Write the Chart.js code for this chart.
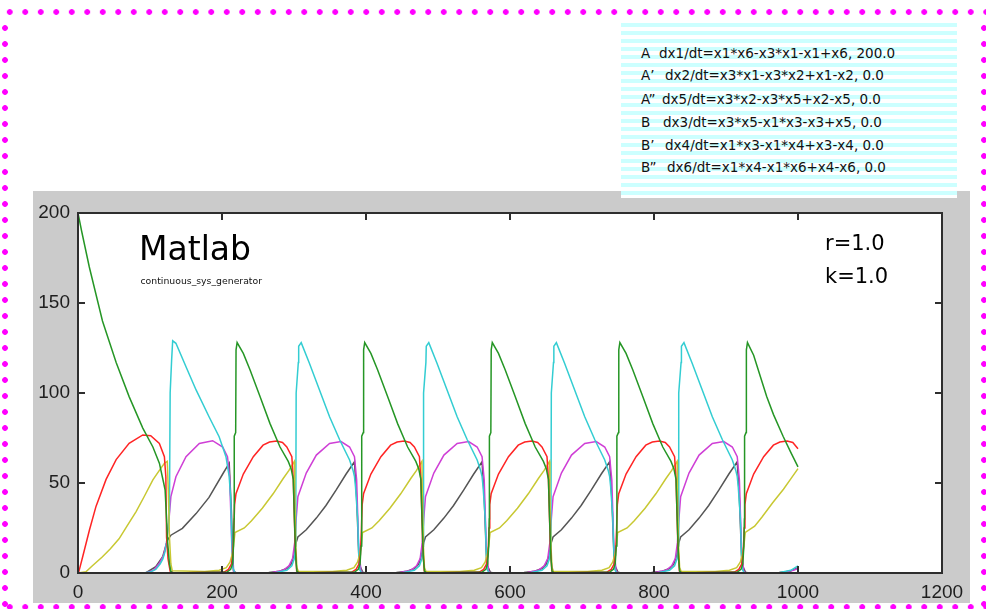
<!DOCTYPE html>
<html>
<head>
<meta charset="utf-8">
<script src="https://cdn.jsdelivr.net/npm/chart.js@4/dist/chart.umd.min.js"></script>
<style>
  html, body { margin: 0; padding: 0; background: #fff; }
  #page { position: relative; width: 986px; height: 609px; overflow: hidden; background: #fff; }
  #panel { position: absolute; left: 33px; top: 191px; width: 937px; height: 412px; background: #cbcbcb; }
  #chart { position: absolute; left: 0; top: 0; }
  .dots { position: absolute; background-image: radial-gradient(circle, #ff00ff 0, #ff00ff 2.5px, rgba(255,0,255,0) 3.2px); }
  #dotsTop { left: 2px; top: 9px; width: 984px; height: 6px; background-size: 15.5px 6px; }
  #dotsBottom { left: 2px; top: 604px; width: 984px; height: 6px; background-size: 15.5px 6px; }
  #dotsLeft { left: 2px; top: 20px; width: 6px; height: 589px; background-size: 6px 16px; }
  #dotsRight { left: 981px; top: 20px; width: 6px; height: 589px; background-size: 6px 16px; }
  #legend {
    position: absolute; left: 621px; top: 23px; width: 336px; height: 175px;
    background: repeating-linear-gradient(to bottom, #ccffff 0, #ccffff 4px, #ffffff 4px, #ffffff 8px);
    font-family: "DejaVu Sans"; font-size: 13.5px; line-height: 13.5px; color: #111;
  }
  #legend .row { position: absolute; left: 0; white-space: pre; }
  #legend .row span { position: absolute; top: 0; white-space: pre; }
  .txt { position: absolute; font-family: "DejaVu Sans"; white-space: pre; color: #000; }
  #title { left: 139px; top: 232px; font-size: 33px; line-height: 33px; }
  #subtitle { left: 140.5px; top: 276px; font-size: 9.3px; line-height: 9.3px; color: #111; }
  #rval { left: 825px; top: 233px; font-size: 21px; line-height: 21px; }
  #kval { left: 825px; top: 266px; font-size: 21px; line-height: 21px; }
</style>
</head>
<body>
<div id="page">
  <div id="panel"></div>
  <canvas id="chart" width="986" height="609"></canvas>
  <div class="dots" id="dotsTop"></div>
  <div class="dots" id="dotsBottom"></div>
  <div class="dots" id="dotsLeft"></div>
  <div class="dots" id="dotsRight"></div>
  <div id="legend"></div>
  <div class="txt" id="title">Matlab</div>
  <div class="txt" id="subtitle">continuous_sys_generator</div>
  <div class="txt" id="rval">r=1.0</div>
  <div class="txt" id="kval">k=1.0</div>
</div>
<script>
// Axis ticks
const xTicks = [0, 200, 400, 600, 800, 1000, 1200];
const yTicks = [0, 50, 100, 150, 200];

// Legend rows: species label, rate equation, initial value
const legendLabels = ["A", "A\u2019", "A\u201D", "B", "B\u2019", "B\u201D"];
const legendEquations = [
  "dx1/dt=x1*x6-x3*x1-x1+x6, 200.0",
  "dx2/dt=x3*x1-x3*x2+x1-x2, 0.0",
  "dx5/dt=x3*x2-x3*x5+x2-x5, 0.0",
  "dx3/dt=x3*x5-x1*x3-x3+x5, 0.0",
  "dx4/dt=x1*x3-x1*x4+x3-x4, 0.0",
  "dx6/dt=x1*x4-x1*x6+x4-x6, 0.0"
];

// Trajectories as [t, value] samples
const x1 = [
  [0,200],[5,190],[15.7,170],[34,140],[53,117],[71,98],[90,80.5],[104,70],[113,61],[119,50],[121,46],[123,30],[124.5,17],[127,5],[129,0.7],[133,0],
  [207,0.5],[212,2],[214.5,5],[216,15],[216.7,30],[217,76],[219,78],[219.5,124],[221,128],[229.6,122],[239,112.8],[252.8,98],[266.7,83],[280.6,70],[292,62],[296,58],[299,52],[300.5,31],[302.5,8],[304,1],[307,0],
  [384.2,0.5],[389.2,2],[391.7,5],[393.2,15],[393.9,30],[394.2,76],[396.2,78],[396.7,124],[398.2,128],[406.8,122],[416.2,112.8],[430,98],[443.9,83],[457.8,70],[469.2,62],[473.2,58],[476.2,52],[477.7,31],[479.7,8],[481.2,1],[484.2,0],
  [561.4,0.5],[566.4,2],[568.9,5],[570.4,15],[571.1,30],[571.4,76],[573.4,78],[573.9,124],[575.4,128],[584,122],[593.4,112.8],[607.2,98],[621.1,83],[635,70],[646.4,62],[650.4,58],[653.4,52],[654.9,31],[656.9,8],[658.4,1],[661.4,0],
  [738.6,0.5],[743.6,2],[746.1,5],[747.6,15],[748.3,30],[748.6,76],[750.6,78],[751.1,124],[752.6,128],[761.2,122],[770.6,112.8],[784.4,98],[798.3,83],[812.2,70],[823.6,62],[827.6,58],[830.6,52],[832.1,31],[834.1,8],[835.6,1],[838.6,0],
  [915.8,0.5],[920.8,2],[923.3,5],[924.8,15],[925.5,30],[925.8,76],[927.8,78],[928.3,124],[929.8,128],[938.4,121],[947.8,109],[956.5,98],[966,88],[979.6,75.7],[990,67],[1000,59]
];
const x2 = [
  [0,0],[1,0.5],[6.5,9],[16,24],[25,37],[39,52],[53,63],[71,72],[90,76.7],[101,76.3],[113,72],[120,64.6],[122,53.5],[123,20],[125,8],[128,1],[132,0],
  [203,0.5],[209,2],[213,5],[215,10],[216.5,25],[217.5,38],[219.4,44],[229.6,55],[243.5,64.6],[257,71],[266,72.8],[276,73.3],[284,72.5],[290,70],[297,64.6],[299,51.7],[301.6,15],[303.7,1],[307,0],
  [380.2,0.5],[386.2,2],[390.2,5],[392.2,10],[393.7,25],[394.7,38],[396.6,44],[406.8,55],[420.7,64.6],[434.2,71],[443.2,72.8],[453.2,73.3],[461.2,72.5],[467.2,70],[474.2,64.6],[476.2,51.7],[478.8,15],[480.9,1],[484.2,0],
  [557.4,0.5],[563.4,2],[567.4,5],[569.4,10],[570.9,25],[571.9,38],[573.8,44],[584,55],[597.9,64.6],[611.4,71],[620.4,72.8],[630.4,73.3],[638.4,72.5],[644.4,70],[651.4,64.6],[653.4,51.7],[656,15],[658.1,1],[661.4,0],
  [734.6,0.5],[740.6,2],[744.6,5],[746.6,10],[748.1,25],[749.1,38],[751,44],[761.2,55],[775.1,64.6],[788.6,71],[797.6,72.8],[807.6,73.3],[815.6,72.5],[821.6,70],[828.6,64.6],[830.6,51.7],[833.2,15],[835.3,1],[838.6,0],
  [911.8,0.5],[917.8,2],[921.8,5],[923.8,10],[925.3,25],[926.3,38],[928.2,44],[938.4,55],[952.3,64.6],[965.8,71],[974.8,72.8],[984.8,73.3],[992.8,72.5],[1000,69]
];
const x5 = [
  [0,0],[11,0.7],[20,4],[34,9],[45,13.5],[57,19],[68,26],[80.5,34],[92,42.5],[104,51.7],[113,57],[120,61],[124,62],[125.5,45],[127,20],[129,5],[131,1.2],
  [176,0.8],[196,1.5],[206,3],[211,6],[214,10],[216,15],[218,22.5],[231,25],[241,29],[256,36],[271,44],[285,52.5],[293,57],[299,61],[300.5,62],[301,45],[302.5,15],[304,3],[306,1],
  [353.2,0.8],[373.2,1.5],[383.2,3],[388.2,6],[391.2,10],[393.2,15],[395.2,22.5],[408.2,25],[418.2,29],[433.2,36],[448.2,44],[462.2,52.5],[470.2,57],[476.2,61],[477.7,62],[478.2,45],[479.7,15],[481.2,3],[483.2,1],
  [530.4,0.8],[550.4,1.5],[560.4,3],[565.4,6],[568.4,10],[570.4,15],[572.4,22.5],[585.4,25],[595.4,29],[610.4,36],[625.4,44],[639.4,52.5],[647.4,57],[653.4,61],[654.9,62],[655.4,45],[656.9,15],[658.4,3],[660.4,1],
  [707.6,0.8],[727.6,1.5],[737.6,3],[742.6,6],[745.6,10],[747.6,15],[749.6,22.5],[762.6,25],[772.6,29],[787.6,36],[802.6,44],[816.6,52.5],[824.6,57],[830.6,61],[832.1,62],[832.6,45],[834.1,15],[835.6,3],[837.6,1],
  [884.8,0.8],[904.8,1.5],[914.8,3],[919.8,6],[922.8,10],[924.8,15],[926.8,22.5],[939.8,26],[949.8,31],[964.8,39],[979.8,46.5],[989,51.7],[1000,58]
];
const x3 = [
  [0,0],[90,0],[100,0.5],[108,2],[114,5],[118,8],[121,12],[123,17],[126,28],[127,35],[128,100],[130,118],[131.5,129],[136,127.6],[150,114.6],[164,101.7],[182,86.8],[196,75.7],[205.5,64.6],[210,53.5],[212,42],[213.5,20],[215,3],[218,0],
  [275,0.3],[290,1.5],[297,4],[300.5,8],[302,15],[302.5,35],[303,100],[306,117],[306.5,126],[310,128],[321.4,116.5],[335.4,101.7],[349.4,86.8],[363.4,74],[377.2,62.8],[382,57],[384,53.5],[385.4,48],[388.3,31],[390,10],[391.4,1.7],[394,0],
  [452.2,0.3],[467.2,1.5],[474.2,4],[477.7,8],[479.2,15],[479.7,35],[480.2,100],[483.2,117],[483.7,126],[487.2,128],[498.6,116.5],[512.6,101.7],[526.6,86.8],[540.6,74],[554.4,62.8],[559.2,57],[561.2,53.5],[562.6,48],[565.5,31],[567.2,10],[568.6,1.7],[571.2,0],
  [629.4,0.3],[644.4,1.5],[651.4,4],[654.9,8],[656.4,15],[656.9,35],[657.4,100],[660.4,117],[660.9,126],[664.4,128],[675.8,116.5],[689.8,101.7],[703.8,86.8],[717.8,74],[731.6,62.8],[736.4,57],[738.4,53.5],[739.8,48],[742.7,31],[744.4,10],[745.8,1.7],[748.4,0],
  [806.6,0.3],[821.6,1.5],[828.6,4],[832.1,8],[833.6,15],[834.1,35],[834.6,100],[837.6,117],[838.1,126],[841.6,128],[853,116.5],[867,101.7],[881,86.8],[895,74],[908.8,62.8],[913.6,57],[915.6,53.5],[917,48],[919.9,31],[921.6,10],[923,1.7],[925.6,0],
  [975,0.3],[990,1.5],[1000,4]
];
const x4 = [
  [0,0],[94,0],[105,1.5],[113,5.4],[119,10],[123,17],[126,28],[129,42.4],[136,53.5],[150,64.6],[168.5,72],[187,73.5],[201,70],[207.6,64.6],[210.6,53.5],[212.5,30],[214,10],[216,1],[219,0],
  [270,0.3],[285,1.5],[293,4],[298,8],[301,17],[303,30],[305.4,42.4],[317,55.5],[331,65.5],[349.4,72],[365.4,73],[377.2,70],[384,64.6],[387,51.7],[389.8,15],[393,1],[396,0],
  [447.2,0.3],[462.2,1.5],[470.2,4],[475.2,8],[478.2,17],[480.2,30],[482.6,42.4],[494.2,55.5],[508.2,65.5],[526.6,72],[542.6,73],[554.4,70],[561.2,64.6],[564.2,51.7],[567,15],[570.2,1],[573.2,0],
  [624.4,0.3],[639.4,1.5],[647.4,4],[652.4,8],[655.4,17],[657.4,30],[659.8,42.4],[671.4,55.5],[685.4,65.5],[703.8,72],[719.8,73],[731.6,70],[738.4,64.6],[741.4,51.7],[744.2,15],[747.4,1],[750.4,0],
  [801.6,0.3],[816.6,1.5],[824.6,4],[829.6,8],[832.6,17],[834.6,30],[837,42.4],[848.6,55.5],[862.6,65.5],[881,72],[897,73],[908.8,70],[915.6,64.6],[918.6,51.7],[921.4,15],[924.6,1],[927.6,0],
  [978.8,0.3],[993.8,1.5],[1000,2.5]
];
const x6 = [
  [0,0],[94,0],[108,3.5],[117.6,9],[124.5,18.5],[129,21],[145,24.8],[164,33],[182,42],[201,55],[210,61],[213,35],[216,1],[220,0],
  [265,0.3],[280,1],[290,2.5],[296,5],[300,10],[303,17],[305.4,20],[317,24],[331,30.5],[344.4,37.5],[358.4,46],[372.4,55],[384,61.8],[387,41.7],[390.4,5],[395.4,0.5],[400,0],
  [442.2,0.3],[457.2,1],[467.2,2.5],[473.2,5],[477.2,10],[480.2,17],[482.6,20],[494.2,24],[508.2,30.5],[521.6,37.5],[535.6,46],[549.6,55],[561.2,61.8],[564.2,41.7],[567.6,5],[572.6,0.5],[577.2,0],
  [619.4,0.3],[634.4,1],[644.4,2.5],[650.4,5],[654.4,10],[657.4,17],[659.8,20],[671.4,24],[685.4,30.5],[698.8,37.5],[712.8,46],[726.8,55],[738.4,61.8],[741.4,41.7],[744.8,5],[749.8,0.5],[754.4,0],
  [796.6,0.3],[811.6,1],[821.6,2.5],[827.6,5],[831.6,10],[834.6,17],[837,20],[848.6,24],[862.6,30.5],[876,37.5],[890,46],[904,55],[915.6,61.8],[918.6,41.7],[922,5],[927,0.5],[931.6,0],
  [973.8,0.3],[988.8,1],[1000,3]
];

// Legend box rows
const legendEqLeft = [38, 44, 41, 42, 44, 46];
const legendRowTop = [23.5, 45.5, 69.5, 92.5, 115.5, 137.5];
const legendEl = document.getElementById('legend');
legendLabels.forEach((lab, i) => {
  const row = document.createElement('div');
  row.className = 'row';
  row.style.top = legendRowTop[i] + 'px';
  const a = document.createElement('span');
  a.style.left = '20px';
  a.textContent = lab;
  const b = document.createElement('span');
  b.style.left = legendEqLeft[i] + 'px';
  b.textContent = legendEquations[i];
  row.appendChild(a); row.appendChild(b);
  legendEl.appendChild(row);
});

const toXY = arr => arr.map(p => ({ x: p[0], y: p[1] }));
const series = [
  { data: x1, color: '#259625' },
  { data: x2, color: '#ff2424' },
  { data: x5, color: '#c8c832' },
  { data: x3, color: '#33cdd2' },
  { data: x4, color: '#cf3fd6' },
  { data: x6, color: '#555555' }
];

const TICK = 7;
// White plot box, then a dark frame with inward ticks on all four sides
const framePlugin = {
  id: 'frame',
  beforeDraw(c) {
    const a = c.chartArea, g = c.ctx;
    g.save();
    g.fillStyle = '#ffffff';
    g.fillRect(a.left, a.top, a.right - a.left, a.bottom - a.top);
    g.restore();
  },
  afterDatasetsDraw(c) {
    const a = c.chartArea, g = c.ctx, xs = c.scales.x, ys = c.scales.y;
    g.save();
    g.strokeStyle = '#2e2e2e';
    g.lineWidth = 2;
    g.strokeRect(a.left, a.top, a.right - a.left, a.bottom - a.top);
    g.beginPath();
    xs.ticks.forEach(t => {
      const p = Math.round(xs.getPixelForValue(t.value));
      if (p <= a.left + 2 || p >= a.right - 2) return;
      g.moveTo(p, a.bottom); g.lineTo(p, a.bottom - TICK);
      g.moveTo(p, a.top); g.lineTo(p, a.top + TICK);
    });
    ys.ticks.forEach(t => {
      const p = Math.round(ys.getPixelForValue(t.value));
      if (p <= a.top + 2 || p >= a.bottom - 2) return;
      g.moveTo(a.left, p); g.lineTo(a.left + TICK, p);
      g.moveTo(a.right, p); g.lineTo(a.right - TICK, p);
    });
    g.stroke();
    g.restore();
  }
};

const tickFont = { family: 'Liberation Sans', size: 19 };
const plainLabel = v => String(v);

new Chart(document.getElementById('chart'), {
  type: 'line',
  data: {
    datasets: series.map(s => ({
      data: toXY(s.data),
      borderColor: s.color,
      backgroundColor: s.color,
      borderWidth: 1.5,
      pointRadius: 0,
      tension: 0,
      fill: false
    }))
  },
  options: {
    responsive: false,
    animation: false,
    devicePixelRatio: 1,
    layout: { padding: { left: 0, top: 213, right: 44, bottom: 0 } },
    plugins: { legend: { display: false }, tooltip: { enabled: false } },
    scales: {
      x: {
        type: 'linear', min: xTicks[0], max: xTicks[xTicks.length - 1],
        afterBuildTicks(s) { s.ticks = xTicks.map(v => ({ value: v })); },
        afterFit(s) { s.height = 36; },
        ticks: { font: tickFont, color: '#1e1e1e', padding: 8, maxRotation: 0, autoSkip: false, callback: plainLabel },
        grid: { display: false, drawTicks: false },
        border: { display: false }
      },
      y: {
        type: 'linear', min: yTicks[0], max: yTicks[yTicks.length - 1],
        afterBuildTicks(s) { s.ticks = yTicks.map(v => ({ value: v })); },
        afterFit(s) { s.width = 78; },
        ticks: { font: tickFont, color: '#1e1e1e', padding: 8, autoSkip: false, callback: plainLabel },
        grid: { display: false, drawTicks: false },
        border: { display: false }
      }
    }
  },
  plugins: [framePlugin]
});
</script>
</body>
</html>
